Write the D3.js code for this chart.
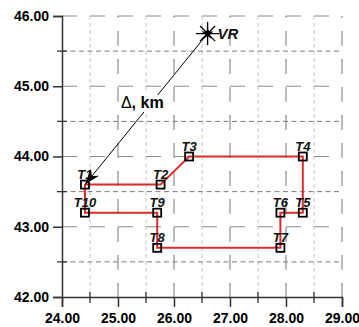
<!DOCTYPE html>
<html>
<head>
<meta charset="utf-8">
<script src="https://cdn.jsdelivr.net/npm/d3@7"></script>
<style>
  body { margin: 0; background: #fff; }
  svg { display: block; font-family: "Liberation Sans", Arial, sans-serif; }
</style>
</head>
<body>
<div class="route-plot"></div>
<script>
// ticks
const xMajor = [24, 25, 26, 27, 28, 29];
const xMinor = [24.5, 25.5, 26.5, 27.5, 28.5];
const yMajor = [42, 43, 44, 45, 46];
const yMinor = [42.5, 43.5, 44.5, 45.5];

// route points
const pointNames = ["T1", "T2", "T3", "T4", "T5", "T6", "T7", "T8", "T9", "T10"];
const pointX = [24.41, 25.76, 26.27, 28.3, 28.3, 27.9, 27.9, 25.7, 25.7, 24.41];
const pointY = [43.6, 43.6, 44.0, 44.0, 43.2, 43.2, 42.7, 42.7, 43.2, 43.2];

// reference station
const vrName = "VR";
const vrX = 26.6;
const vrY = 45.75;

const points = pointNames.map((n, i) => ({name: n, x: pointX[i], y: pointY[i]}));

const outerWidth = 359;
const outerHeight = 327;
const margin = {top: 16, left: 62, bottom: 30, right: 17};
const width = outerWidth - margin.left - margin.right;
const height = outerHeight - margin.top - margin.bottom;

const svg = d3.select('.route-plot')
    .append('svg')
    .attr('width', outerWidth)
    .attr('height', outerHeight)
    .append('g')
    .attr('transform', `translate(${margin.left}, ${margin.top})`);

const xScale = d3.scaleLinear().domain([24, 29]).range([0, width]);
const yScale = d3.scaleLinear().domain([42, 46]).range([height, 0]);

// grid
const grid = svg.append('g').attr('class', 'grid');

grid.selectAll('.vminor')
    .data(xMinor).enter().append('line')
    .attr('x1', d => xScale(d)).attr('x2', d => xScale(d))
    .attr('y1', 0).attr('y2', height)
    .attr('stroke', '#c4c4c4')
    .attr('stroke-width', 1)
    .attr('stroke-dasharray', '4,3');

grid.selectAll('.hminor')
    .data(yMinor).enter().append('line')
    .attr('x1', 0).attr('x2', width)
    .attr('y1', d => yScale(d)).attr('y2', d => yScale(d))
    .attr('stroke', '#7a7a7a')
    .attr('stroke-width', 1)
    .attr('stroke-dasharray', '5,3.5');

grid.selectAll('.vmajor')
    .data(xMajor.slice(1)).enter().append('line')
    .attr('x1', d => xScale(d)).attr('x2', d => xScale(d))
    .attr('y1', 0).attr('y2', height)
    .attr('stroke', '#8c8c8c')
    .attr('stroke-width', 1.2)
    .attr('stroke-dasharray', '15,13')
    .attr('stroke-dashoffset', 13);

grid.selectAll('.hmajor')
    .data(yMajor.slice(1)).enter().append('line')
    .attr('x1', 0).attr('x2', width)
    .attr('y1', d => yScale(d)).attr('y2', d => yScale(d))
    .attr('stroke', '#8c8c8c')
    .attr('stroke-width', 1.2)
    .attr('stroke-dasharray', '15,13');

// route
const line = d3.line()
    .x(d => xScale(d.x))
    .y(d => yScale(d.y));

svg.append('path')
    .datum(points.concat([points[0]]))
    .attr('fill', 'none')
    .attr('stroke', '#dc2b2b')
    .attr('stroke-width', 2)
    .attr('d', line);

svg.selectAll('.pt')
    .data(points).enter().append('rect')
    .attr('x', d => xScale(d.x) - 4)
    .attr('y', d => yScale(d.y) - 4)
    .attr('width', 8)
    .attr('height', 8)
    .attr('fill', 'none')
    .attr('stroke', 'black')
    .attr('stroke-width', 1.8);

svg.selectAll('.pt-label')
    .data(points).enter().append('text')
    .attr('x', d => xScale(d.x))
    .attr('y', d => yScale(d.y) - 6)
    .attr('text-anchor', 'middle')
    .attr('font-size', 13)
    .attr('font-style', 'italic')
    .attr('font-weight', 'bold')
    .attr('fill', '#111')
    .text(d => d.name);

// arrow VR -> T1
svg.append('defs').append('marker')
    .attr('id', 'arrow')
    .attr('markerUnits', 'userSpaceOnUse')
    .attr('viewBox', '-16 -6 17 12')
    .attr('refX', 0).attr('refY', 0)
    .attr('markerWidth', 17).attr('markerHeight', 12)
    .attr('orient', 'auto')
    .append('path')
    .attr('d', 'M0,0 L-16,-5.5 L-11,0 L-16,5.5 Z')
    .attr('fill', 'black');

const ax1 = xScale(vrX), ay1 = yScale(vrY);
const ax2 = xScale(points[0].x), ay2 = yScale(points[0].y);

svg.append('line')
    .attr('x1', ax1).attr('y1', ay1)
    .attr('x2', ax2).attr('y2', ay2)
    .attr('stroke', 'black')
    .attr('stroke-width', 1)
    .attr('marker-end', 'url(#arrow)');

const deltaLabel = svg.append('text')
    .attr('x', (ax1 + ax2) / 2 - 4)
    .attr('y', (ay1 + ay2) / 2 - 1)
    .attr('text-anchor', 'middle')
    .attr('font-size', 16)
    .attr('fill', 'black');
deltaLabel.append('tspan').text('\u0394');
deltaLabel.append('tspan').attr('font-weight', 'bold').text(', km');
deltaLabel.call(halo);

// VR star
const star = svg.append('g')
    .attr('transform', `translate(${ax1}, ${ay1})`);
star.append('path')
    .attr('d', d3.symbol(d3.symbolPlus, 180)())
    .attr('fill', 'none').attr('stroke', 'black').attr('stroke-width', 1.3);
star.append('path')
    .attr('d', d3.symbol(d3.symbolTimes, 150)())
    .attr('fill', 'none').attr('stroke', 'black').attr('stroke-width', 1.3);
star.append('path')
    .attr('d', d3.symbol(d3.symbolStar, 45)())
    .attr('fill', 'black');

svg.append('text')
    .attr('x', ax1 + 10)
    .attr('y', ay1 + 5)
    .attr('font-size', 15)
    .attr('font-style', 'italic')
    .attr('font-weight', 'bold')
    .attr('fill', '#111')
    .text(vrName);

// axes
const fmt = d3.format('.2f');

const yAxis = svg.append('g')
    .call(d3.axisLeft(yScale).tickValues(yMajor).tickFormat(fmt).tickSize(9).tickPadding(4))
    .call(g => g.select('.domain').attr('stroke', '#333').attr('stroke-width', 1.5))
    .call(g => g.selectAll('.tick line').attr('stroke', '#333').attr('stroke-width', 1.5))
    .call(g => g.selectAll('.tick text')
        .attr('font-family', '"Liberation Sans", Arial, sans-serif')
        .attr('font-size', 14).attr('font-weight', 'bold').attr('fill', 'black'));

yAxis.selectAll('.minor')
    .data(yMinor).enter().append('line')
    .attr('x1', -5).attr('x2', 5)
    .attr('y1', d => yScale(d)).attr('y2', d => yScale(d))
    .attr('stroke', '#333').attr('stroke-width', 1.3);

const xAxis = svg.append('g')
    .attr('transform', `translate(0, ${height})`)
    .call(d3.axisBottom(xScale).tickValues(xMajor).tickFormat(fmt).tickSize(10).tickPadding(6))
    .call(g => g.select('.domain').attr('stroke', '#333').attr('stroke-width', 1.5))
    .call(g => g.selectAll('.tick line').attr('stroke', '#333').attr('stroke-width', 1.5))
    .call(g => g.selectAll('.tick text')
        .attr('font-family', '"Liberation Sans", Arial, sans-serif')
        .attr('font-size', 14).attr('font-weight', 'bold').attr('fill', 'black'));

xAxis.selectAll('.minor')
    .data(xMinor).enter().append('line')
    .attr('x1', d => xScale(d)).attr('x2', d => xScale(d))
    .attr('y1', -5).attr('y2', 6)
    .attr('stroke', '#333').attr('stroke-width', 1.3);

function halo(text) {
    text
      .select(function() {
        return this.parentNode.insertBefore(this.cloneNode(true), this);
      })
      .attr('fill', 'none')
      .attr('stroke', 'white')
      .attr('stroke-width', 8)
      .attr('stroke-linejoin', 'round');
}
</script>
</body>
</html>
